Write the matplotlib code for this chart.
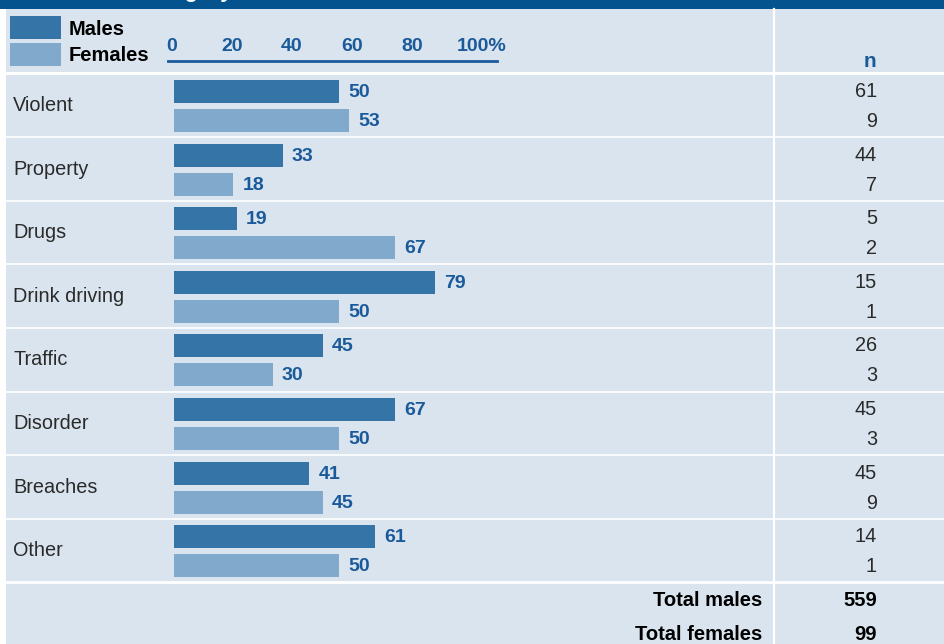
import matplotlib
matplotlib.use('Agg')
import matplotlib.pyplot as plt
from matplotlib import font_manager

categories = ['Violent', 'Property', 'Drugs', 'Drink driving', 'Traffic',
              'Disorder', 'Breaches', 'Other']
males_pct = [50, 33, 19, 79, 45, 67, 41, 61]
females_pct = [53, 18, 67, 50, 30, 50, 45, 50]
males_n = [61, 44, 5, 15, 26, 45, 45, 14]
females_n = [9, 7, 2, 1, 3, 3, 9, 1]
scale_ticks = [0, 20, 40, 60, 80, 100]
total_males = 559
total_females = 99


def has_font(name):
    try:
        font_manager.findfont(font_manager.FontProperties(family=name),
                              fallback_to_default=False)
        return True
    except Exception:
        return False


narrow = 'Liberation Sans Narrow' if has_font('Liberation Sans Narrow') else 'Liberation Sans'
plt.rcParams['font.family'] = ['Liberation Sans', 'DejaVu Sans']

W, H = 945, 644
dark = '#04538f'
bg = '#d9e4ee'
c_male = '#3574a6'
c_female = '#81a9cb'
blue_txt = '#1a5a9a'

fig = plt.figure(figsize=(W / 100, H / 100), dpi=100)

# background / layout axes in pixel coordinates
ax = fig.add_axes([0, 0, 1, 1])
ax.set_xlim(0, W)
ax.set_ylim(H, 0)
ax.axis('off')

ax.add_patch(plt.Rectangle((0, 0), W, 9, color=dark, lw=0))
ax.add_patch(plt.Rectangle((6, 9), W - 6, H - 9, color=bg, lw=0))
# title sits mostly above the visible area, only descenders show
ax.text(51, -3, 'Offence category', color='white', fontsize=16,
        fontweight='bold', va='baseline', ha='left')

top0 = 73.5
pitch = 63.6
ax.plot([6, W], [72.5, 72.5], color='white', lw=2.2)
for i in range(1, len(categories)):
    y = top0 + pitch * i
    ax.plot([6, W], [y, y], color='white', lw=1.2)
ax.plot([6, W], [top0 + pitch * len(categories)] * 2, color='white', lw=2.0)
ax.plot([774, 774], [9, H], color='white', lw=1.6)

# legend
ax.add_patch(plt.Rectangle((10, 16), 51, 23, color=c_male, lw=0))
ax.add_patch(plt.Rectangle((10, 43), 51, 23, color=c_female, lw=0))
ax.text(69, 29, 'Males', fontsize=14.5, fontweight='bold', va='center', color='black')
ax.text(69, 55, 'Females', fontsize=14.5, fontweight='bold', va='center', color='black')

# n header
ax.text(876, 67, 'n', fontsize=15, fontweight='bold', color=blue_txt,
        ha='right', va='baseline')

male_y = []
female_y = []
for i, cat in enumerate(categories):
    top = top0 + pitch * i
    male_y.append(top + 18)
    female_y.append(top + 47)
    ax.text(13, top + 32, cat, fontsize=14.3, color='#2a2a2a', va='center')
    ax.text(877, top + 18, str(males_n[i]), fontsize=14.3, color='#2a2a2a',
            ha='right', va='center')
    ax.text(877, top + 48, str(females_n[i]), fontsize=14.3, color='#2a2a2a',
            ha='right', va='center')

# totals
ax.text(762, 601, 'Total males', fontsize=14.5, fontweight='bold', ha='right', va='center')
ax.text(877, 601, str(total_males), fontsize=14.5, fontweight='bold', ha='right', va='center')
ax.text(762, 634, 'Total females', fontsize=14.5, fontweight='bold', ha='right', va='center')
ax.text(877, 634, str(total_females), fontsize=14.5, fontweight='bold', ha='right', va='center')

# percentage scale in header
px_per = 3.0
sc_left, sc_right = 168, 497
ax_s = fig.add_axes([sc_left / W, 1 - 61 / H, (sc_right - sc_left) / W, 22 / H])
ax_s.set_xlim(-(172 - sc_left) / px_per, (sc_right - 172) / px_per)
ax_s.set_ylim(0, 1)
ax_s.patch.set_visible(False)
for s in ['top', 'left', 'right']:
    ax_s.spines[s].set_visible(False)
ax_s.spines['bottom'].set_color(blue_txt)
ax_s.spines['bottom'].set_linewidth(2)
ax_s.set_xticks([])
ax_s.set_yticks([])
for t in scale_ticks:
    if t == 100:
        ax_s.annotate('100%', xy=(t, 0.65), xytext=(-15, 0), textcoords='offset pixels',
                      ha='left', va='center', fontsize=14, fontweight='bold',
                      color=blue_txt, family=narrow)
    else:
        ax_s.text(t, 0.65, str(t), ha='center', va='center', fontsize=14,
                  fontweight='bold', color=blue_txt, family=narrow)

# bars
bar_px = 3.3
bar_left = 174
axb = fig.add_axes([bar_left / W, 0, (W - bar_left) / W, 1])
axb.set_xlim(0, (W - bar_left) / bar_px)
axb.set_ylim(H, 0)
axb.axis('off')
axb.barh(male_y, males_pct, height=23, color=c_male, lw=0)
axb.barh(female_y, females_pct, height=23, color=c_female, lw=0)
for y, v in zip(male_y, males_pct):
    axb.text(v + 9 / bar_px, y + 1, str(v), fontsize=14, fontweight='bold',
             color=blue_txt, va='center', family=narrow)
for y, v in zip(female_y, females_pct):
    axb.text(v + 9 / bar_px, y + 1, str(v), fontsize=14, fontweight='bold',
             color=blue_txt, va='center', family=narrow)

fig.savefig('out.png', dpi=100)
